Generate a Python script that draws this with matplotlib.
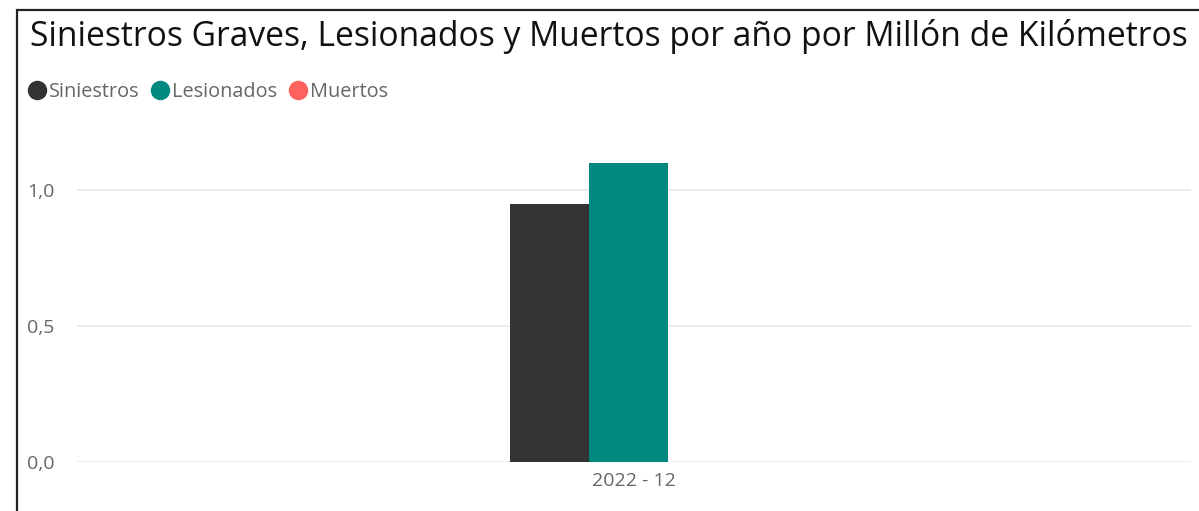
import matplotlib.pyplot as plt
from matplotlib.patches import Rectangle
from matplotlib.lines import Line2D

categories = ['2022 - 12']
series = ['Siniestros', 'Lesionados', 'Muertos']
values = {
    'Siniestros': [0.95],
    'Lesionados': [1.10],
    'Muertos': [0.0],
}
colors = ['#333333', '#01897F', '#FD625E']
yticks = [0.0, 0.5, 1.0]
ytick_labels = ['0,0', '0,5', '1,0']

plt.rcParams['font.family'] = ['Open Sans', 'DejaVu Sans']

W, H = 1199, 511
fig = plt.figure(figsize=(W / 100, H / 100), dpi=100)

# frame of the visual (only left and top edges visible)
fig.patches.append(Rectangle((17 / W, -0.1), 1.2, (H - 10) / H + 0.1,
                             transform=fig.transFigure, fill=False,
                             edgecolor='#222222', linewidth=1.6))

ax = fig.add_axes([77 / W, 49 / H, (1191 - 77) / W, (462 - 135.6) / H])

w = 0.0706
for i, s in enumerate(series):
    xs = [j + (i - 1) * w - 0.005 for j in range(len(categories))]
    ax.bar(xs, values[s], width=w, color=colors[i], zorder=3)

ax.set_xlim(-0.5, len(categories) - 0.5)
ax.set_ylim(0, 1.2)
ax.set_xticks(range(len(categories)))
ax.set_xticklabels(categories)
ax.set_yticks(yticks)
ax.set_yticklabels(ytick_labels)
ax.tick_params(length=0, labelsize=14, colors='#666666')
ax.tick_params(axis='y', pad=16)
ax.tick_params(axis='x', pad=7)
ax.grid(axis='y', color='#e9e9e9', linewidth=1.2, zorder=0)
for sp in ax.spines.values():
    sp.set_visible(False)

fig.text(30 / W, 1 - 37 / H, 'Siniestros Graves, Lesionados y Muertos por año por Millón de Kilómetros',
         fontsize=24.2, color='#111111', va='center', ha='left')

handles = [Line2D([], [], marker='o', linestyle='', markersize=13,
                  markerfacecolor=c, markeredgecolor=c) for c in colors]
leg = fig.legend(handles, series, loc='center left', bbox_to_anchor=(15 / W, 1 - 92 / H),
                 ncol=3, frameon=False, fontsize=14.3, handletextpad=-0.1,
                 columnspacing=0.35, handlelength=1.4, borderaxespad=0)
for t in leg.get_texts():
    t.set_color('#666666')

fig.savefig('out.png', dpi=100)
